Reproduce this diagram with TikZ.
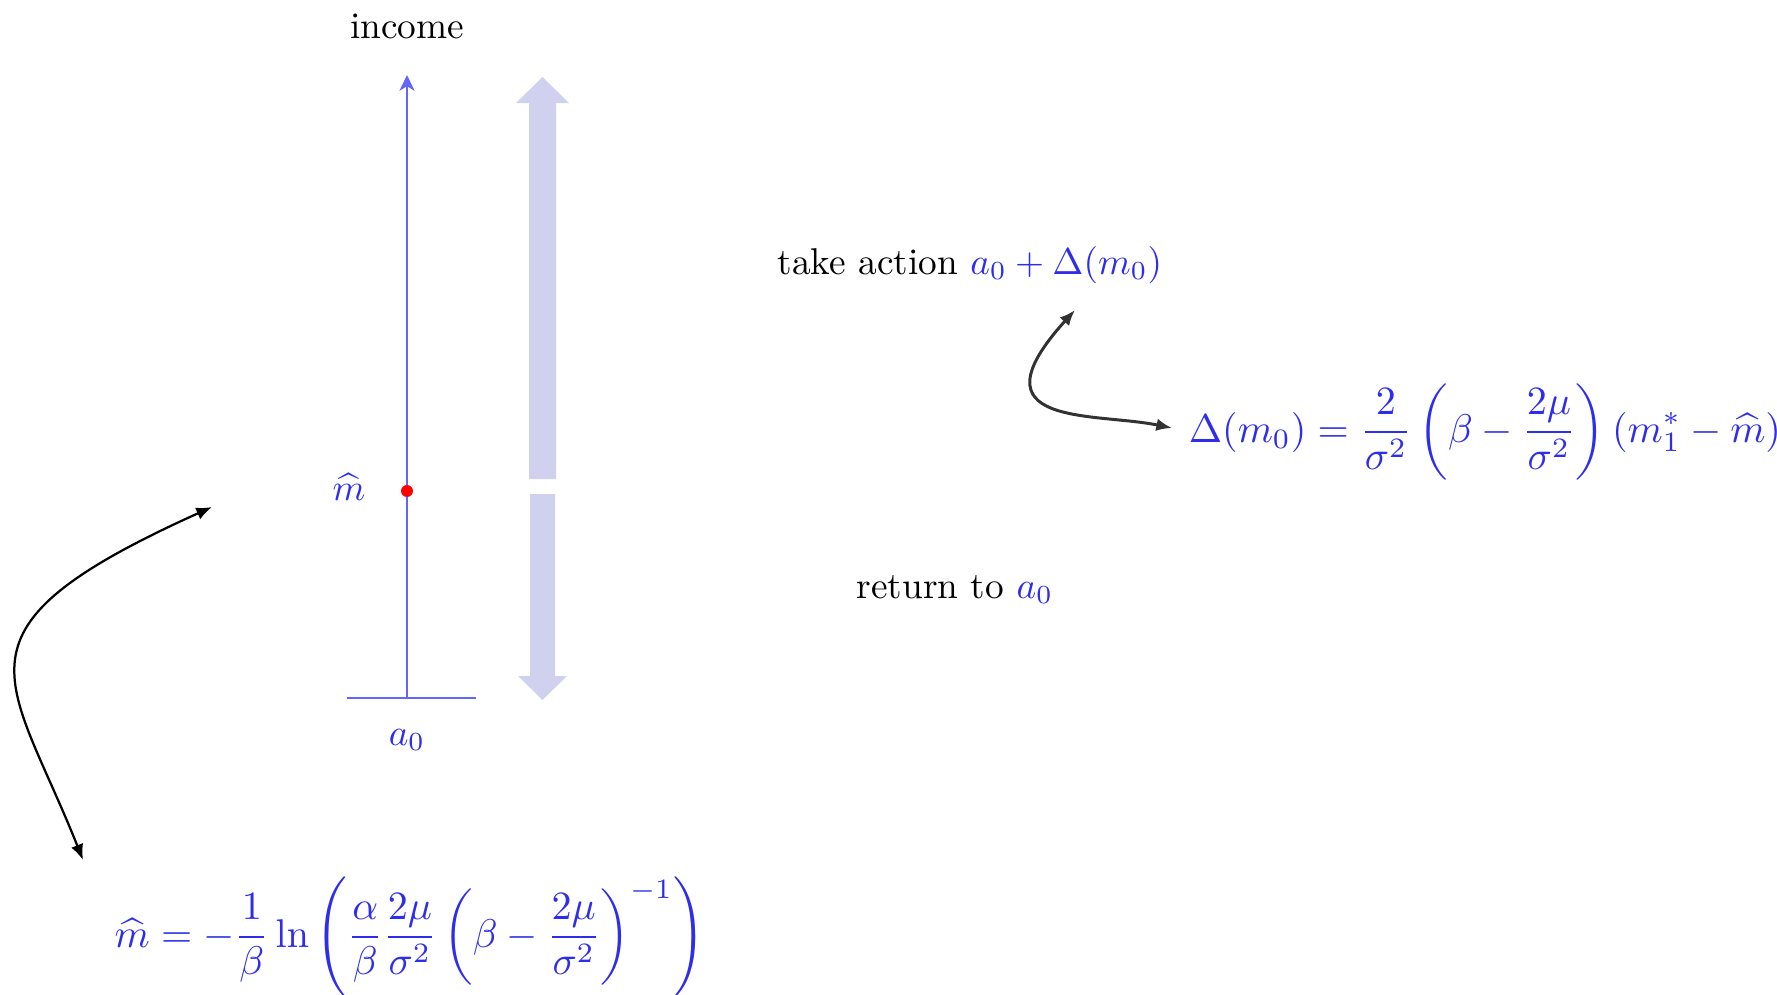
\documentclass[tikz,border=0pt]{standalone}
\usepackage{amsmath}
\usepackage{graphicx}
\usetikzlibrary{arrows.meta}
\definecolor{axisblue}{RGB}{100,100,255}
\definecolor{mathblue}{RGB}{45,45,235}
\definecolor{bandblue}{RGB}{207,209,238}
\definecolor{darkarrow}{RGB}{50,50,50}
\tikzset{
  lbl/.style={inner sep=0pt, text=mathblue},
  txt/.style={inner sep=0pt, text=black},
  axisline/.style={draw=axisblue, line width=0.8pt},
  band/.style={fill=bandblue, draw=none},
  curvearrow/.style={line width=0.6pt, {Latex[length=4.2pt,width=3.4pt]}-{Latex[length=4.2pt,width=3.4pt]}},
}
\begin{document}
\begin{tikzpicture}[x=0.2681pt, y=-0.2681pt]
\useasboundingbox (0,0) rectangle (1777,995);

% axis
\coordinate (base) at (407,698);
\coordinate (top) at (407,75);
\coordinate (bl) at (347,698);
\coordinate (br) at (476,698);
\draw[axisline, -{Stealth[length=4.2pt,width=4pt,inset=1.2pt]}] (base) -- (top);
\draw[axisline] (bl) -- (br);
\node[circle, fill=red, inner sep=0pt, minimum size=3.2pt] (dot) at (407,491) {};

\node[txt, anchor=base] (income) at (407,38) {income};
\node[lbl, anchor=base] (mhat) at (349,500) {$\widehat{m}$};
\node[lbl, anchor=base] (azero) at (407,745) {$a_0$};

% band arrows
\fill[band] (529,479) -- (529,103) -- (516,103) -- (542.5,77) -- (569,103) -- (556,103) -- (556,479) -- cycle;
\fill[band] (530,494) -- (530,676) -- (518,676) -- (542.5,700) -- (567,676) -- (555,676) -- (555,494) -- cycle;

% texts on right
\node[txt, anchor=base west] (take) at (777,274) {take action \textcolor{mathblue}{$a_0+\Delta(m_0)$}};
\node[txt, anchor=base west] (ret) at (856,598) {return to \textcolor{mathblue}{$a_0$}};

\node[lbl, anchor=west] (delta) at (1188,432) {\scalebox{1.075}{$\displaystyle \Delta(m_0)=\frac{2}{\sigma^2}\left(\beta-\frac{2\mu}{\sigma^2}\right)(m_1^*-\widehat{m})$}};
\node[lbl, anchor=west] (mformula) at (114,937) {\scalebox{1.075}{$\displaystyle \widehat{m}=-\frac{1}{\beta}\ln\left(\frac{\alpha}{\beta}\frac{2\mu}{\sigma^2}\left(\beta-\frac{2\mu}{\sigma^2}\right)^{-1}\right)$}};

% curved arrows
\coordinate (la) at (212,507);
\coordinate (lb) at (83,860);
\draw[curvearrow, black] (la) .. controls (-61,630) and (9,674) .. (lb);
\coordinate (ra) at (1075,310);
\coordinate (rb) at (1172,428);
\draw[curvearrow, darkarrow, line width=0.8pt] (ra) .. controls (968,428) and (1094,412) .. (rb);
\end{tikzpicture}
\end{document}
